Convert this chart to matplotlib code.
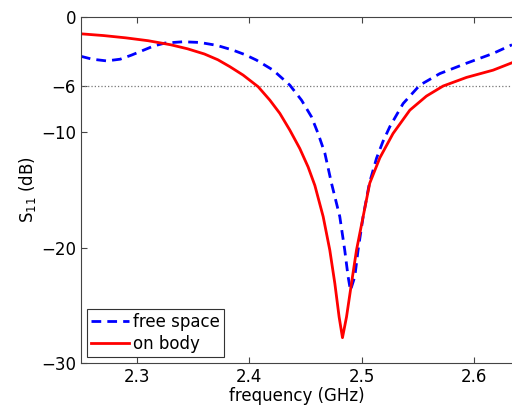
import numpy as np
import matplotlib.pyplot as plt

# free space S11
f_free = [2.25, 2.26, 2.273, 2.285, 2.295, 2.305, 2.315, 2.325, 2.341, 2.356,
          2.371, 2.385, 2.396, 2.4064, 2.4212, 2.4361, 2.4465, 2.4554, 2.4613,
          2.4673, 2.4732, 2.4806, 2.485, 2.488, 2.4901, 2.494, 2.4969, 2.5014,
          2.507, 2.5133, 2.519, 2.5252, 2.537, 2.5519, 2.5697, 2.5935, 2.6172,
          2.634]
s_free = [-3.4, -3.65, -3.8, -3.65, -3.3, -2.9, -2.5, -2.25, -2.14, -2.2,
          -2.45, -2.85, -3.25, -3.73, -4.6, -5.9, -7.2, -8.65, -10.1,
          -11.8, -14.4, -17.3, -20.2, -22.5, -23.7, -22.5, -20.2, -17.3,
          -14.4, -12.25, -10.8, -9.5, -7.5, -5.9, -4.9, -4.0, -3.15,
          -2.4]

# on body S11
f_body = [2.25, 2.27, 2.29, 2.31, 2.33, 2.345, 2.36, 2.372, 2.3827, 2.3945,
          2.4079, 2.4183, 2.4272, 2.4361, 2.445, 2.4524, 2.4584, 2.4658,
          2.4717, 2.4762, 2.48, 2.483, 2.4866, 2.491, 2.4955, 2.5014, 2.5073,
          2.5163, 2.528, 2.543, 2.5578, 2.5726, 2.5935, 2.6172, 2.634]
s_body = [-1.45, -1.6, -1.8, -2.05, -2.4, -2.75, -3.2, -3.7, -4.3, -5.03,
          -6.04, -7.2, -8.35, -9.8, -11.4, -13.0, -14.6, -17.3,
          -20.2, -23.1, -26.0, -27.8, -26.0, -23.1, -20.2, -17.3, -14.4,
          -12.2, -10.1, -8.07, -6.85, -5.98, -5.23, -4.6, -3.96]

xticks = [2.3, 2.4, 2.5, 2.6]
yticks = [0, -6, -10, -20, -30]

fig = plt.figure(figsize=(5.12, 4.07), dpi=100)
ax = fig.add_axes([0.158, 0.108, 0.842, 0.85])

ax.axhline(-6, color='#777777', linestyle=':', linewidth=0.9)
ax.plot(f_free, s_free, color='blue', linestyle='--', linewidth=2,
        dashes=(3.5, 2.2), label='free space')
ax.plot(f_body, s_body, color='red', linewidth=2, label='on body')

ax.set_xlim(2.25, 2.634)
ax.set_ylim(-30, 0)
ax.set_xticks(xticks)
ax.set_xticklabels([str(t) for t in xticks])
ax.set_yticks(yticks)
ax.set_yticklabels([str(t).replace('-', '\u2212') for t in yticks])
ax.tick_params(direction='in', length=4, top=True, right=False,
               labelsize=12, color='#444444')
for sp in ax.spines.values():
    sp.set_color('#444444')
ax.spines['right'].set_visible(False)

ax.set_xlabel('frequency (GHz)', fontsize=12, labelpad=1)
ax.set_ylabel('S$_{11}$ (dB)', fontsize=12, labelpad=2)

leg = ax.legend(loc='lower left', fontsize=12, fancybox=False, framealpha=1,
                handlelength=2.3, handletextpad=0.2, borderpad=0.25,
                labelspacing=0.25, borderaxespad=0.35)
leg.get_frame().set_edgecolor('#333333')
leg.get_frame().set_linewidth(0.8)

fig.savefig('out.png', dpi=100)
